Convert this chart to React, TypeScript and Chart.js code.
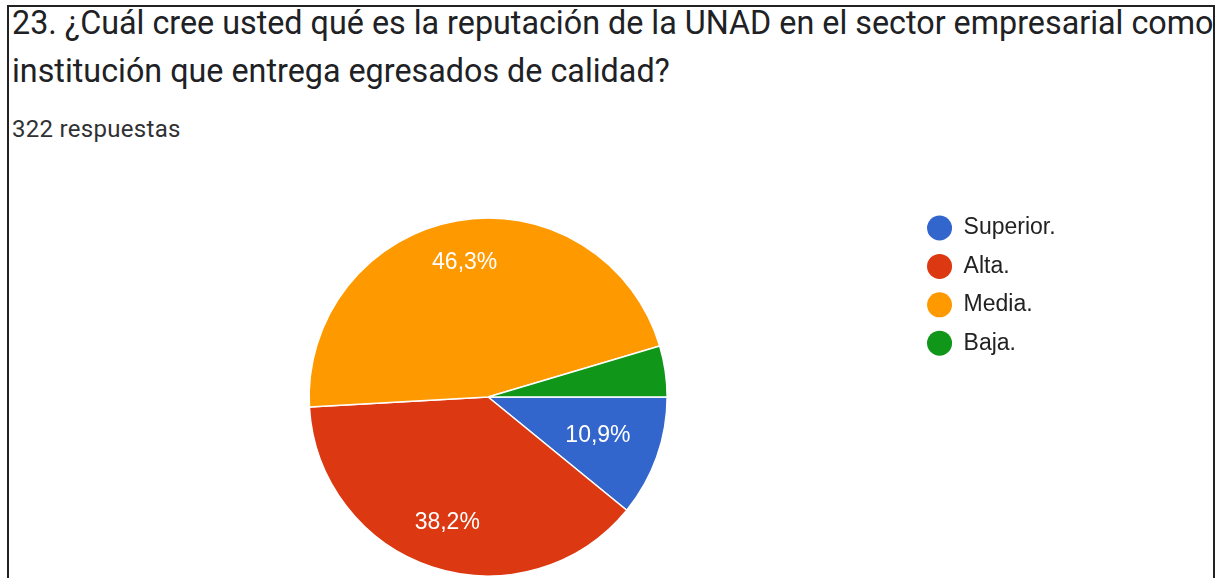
import React, { useEffect, useRef } from 'react';
import { Chart, registerables } from 'chart.js';

Chart.register(...registerables);

const categories = ['Superior.', 'Alta.', 'Media.', 'Baja.'];
const percentages = [10.9, 38.2, 46.3, 4.6];
const sliceColors = ['#3366cc', '#dc3912', '#ff9900', '#109618'];
const titleLines = [
  '23. ¿Cuál cree usted qué es la reputación de la UNAD en el sector empresarial como',
  'institución que entrega egresados de calidad?',
];
const responsesText = '322 respuestas';

const LABEL_FONT = '"Liberation Sans", Arial, sans-serif';

const sliceLabels = {
  id: 'sliceLabels',
  afterDatasetsDraw(chart: any) {
    const meta = chart.getDatasetMeta(0);
    const values = chart.data.datasets[0].data as number[];
    const ctx = chart.ctx as CanvasRenderingContext2D;
    ctx.save();
    ctx.font = `23px ${LABEL_FONT}`;
    ctx.fillStyle = '#ffffff';
    ctx.textAlign = 'center';
    ctx.textBaseline = 'middle';
    meta.data.forEach((arc: any, i: number) => {
      const v = values[i];
      if (v < 5) return;
      const { x, y, startAngle, endAngle, outerRadius } = arc.getProps(
        ['x', 'y', 'startAngle', 'endAngle', 'outerRadius'],
        true
      );
      const mid = (startAngle + endAngle) / 2;
      const text = v.toFixed(1).replace('.', ',') + '%';
      const w = ctx.measureText(text).width;
      const h = 16;
      const c = Math.cos(mid);
      const s = Math.sin(mid);
      const d = 0.838 * outerRadius - (Math.abs(c) * w / 2 + Math.abs(s) * h / 2);
      ctx.fillText(text, x + c * d, y + s * d);
    });
    ctx.restore();
  },
};

export default function App() {
  const canvasRef = useRef<HTMLCanvasElement | null>(null);

  useEffect(() => {
    if (!canvasRef.current) return;
    const ov: any = (Chart as any).overrides;
    const baseGen =
      (ov.pie && ov.pie.plugins && ov.pie.plugins.legend && ov.pie.plugins.legend.labels.generateLabels) ||
      ov.doughnut.plugins.legend.labels.generateLabels;
    const chart = new Chart(canvasRef.current, {
      type: 'pie',
      data: {
        labels: categories,
        datasets: [
          {
            data: percentages,
            backgroundColor: sliceColors,
            borderColor: '#ffffff',
            borderWidth: 1.5,
          },
        ],
      },
      options: {
        responsive: false,
        animation: false,
        rotation: 90,
        radius: 179,
        layout: { padding: { left: 64.6, right: 153.4, top: 51.1, bottom: 17.1 } },
        plugins: {
          legend: {
            position: 'right',
            align: 'start',
            labels: {
              usePointStyle: true,
              pointStyle: 'circle',
              pointStyleWidth: 25,
              boxHeight: 17.68,
              padding: 15.4,
              color: '#222222',
              font: { size: 23, family: LABEL_FONT },
              generateLabels: (c: any) =>
                baseGen(c).map((l: any) => ({ ...l, lineWidth: 0, strokeStyle: 'rgba(0,0,0,0)' })),
            },
          },
          tooltip: { enabled: false },
          title: { display: false },
        },
      } as any,
      plugins: [sliceLabels as any],
    });
    return () => chart.destroy();
  }, []);

  return (
    <div
      style={{
        position: 'absolute',
        left: 0,
        top: 0,
        width: 1219,
        height: 578,
        overflow: 'hidden',
        background: '#ffffff',
      }}
    >
      <div
        style={{
          position: 'absolute',
          left: 7,
          top: 5,
          width: 1204,
          height: 700,
          border: '2px solid #222222',
        }}
      />
      <div
        style={{
          position: 'absolute',
          left: 12,
          top: -1,
          fontFamily: 'Roboto, sans-serif',
          fontSize: 32.3,
          lineHeight: '48px',
          color: '#202124',
          whiteSpace: 'nowrap',
        }}
      >
        {titleLines[0]}
        <br />
        {titleLines[1]}
      </div>
      <div
        style={{
          position: 'absolute',
          left: 12,
          top: 115,
          fontFamily: 'Roboto, sans-serif',
          fontSize: 24,
          letterSpacing: '0.3px',
          lineHeight: '28px',
          color: '#303134',
          whiteSpace: 'nowrap',
        }}
      >
        {responsesText}
      </div>
      <canvas
        ref={canvasRef}
        width={1219}
        height={460}
        style={{ position: 'absolute', left: 0, top: 150 }}
      />
    </div>
  );
}
